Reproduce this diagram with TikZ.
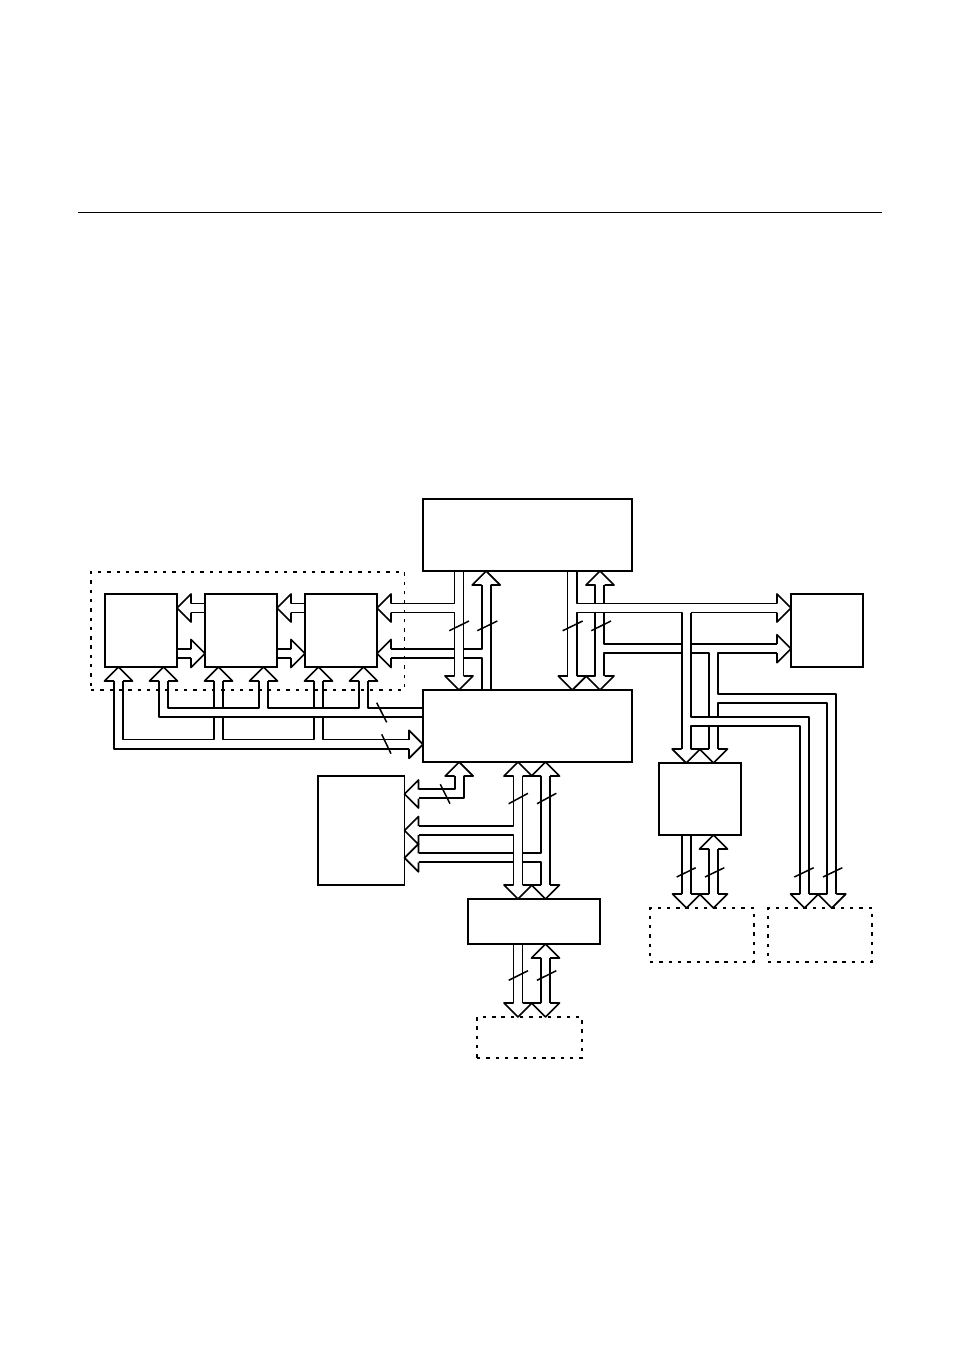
\documentclass[tikz,border=0pt]{standalone}
\newcommand{\headU}[2]{\path (#1,0 |- #2) coordinate (tip);\draw[bus] ([shift={(-4.5,14)}]tip) -- ([shift={(-14,14)}]tip) -- (tip) -- ([shift={(14,14)}]tip) -- ([shift={(4.5,14)}]tip);}
\newcommand{\headD}[2]{\path (#1,0 |- #2) coordinate (tip);\draw[bus] ([shift={(-4.5,-14)}]tip) -- ([shift={(-14,-14)}]tip) -- (tip) -- ([shift={(14,-14)}]tip) -- ([shift={(4.5,-14)}]tip);}
\newcommand{\headL}[2]{\path (#1 |- 0,#2) coordinate (tip);\draw[bus] ([shift={(14,-4.5)}]tip) -- ([shift={(14,-14)}]tip) -- (tip) -- ([shift={(14,14)}]tip) -- ([shift={(14,4.5)}]tip);}
\newcommand{\headR}[2]{\path (#1 |- 0,#2) coordinate (tip);\draw[bus] ([shift={(-14,-4.5)}]tip) -- ([shift={(-14,-14)}]tip) -- (tip) -- ([shift={(-14,14)}]tip) -- ([shift={(-14,4.5)}]tip);}
\newcommand{\blockat}[6]{\node[#1,minimum width={(#5-#3)*1pt},minimum height={(#6-#4)*1pt}] (#2) at ({(#3+#5)/2},{(#4+#6)/2}) {};}
\tikzset{
  bus/.style={line width=1.7pt,line join=round,line cap=butt},
  tick/.style={line width=1.5pt},
  solidbox/.style={draw,line width=1.6pt,inner sep=0pt,outer sep=0pt,fill=white},
  dotbox/.style={draw,line width=1.4pt,inner sep=0pt,outer sep=0pt,dash pattern=on 3.4pt off 5.9pt},
  rulerline/.style={line width=0.9pt}
}
\begin{document}
\begin{tikzpicture}[x=1pt,y=-1pt]
\path[use as bounding box,fill=white] (0,0) rectangle (954,1350);
\coordinate (ruleL) at (78,212);
\coordinate (ruleR) at (882,212);
\draw[rulerline] (ruleL) -- (ruleR);

% boxes
\blockat{solidbox}{top}{423}{499}{632}{571}
\blockat{solidbox}{mid}{423}{690}{632}{762}
\blockat{solidbox}{ba}{105}{594}{177}{667}
\blockat{solidbox}{bb}{205}{594}{277}{667}
\blockat{solidbox}{bc}{305}{594}{377}{667}
\blockat{solidbox}{right}{791}{594}{863}{667}
\blockat{solidbox}{lower}{318}{776}{404.5}{885}
\blockat{solidbox}{small}{659}{763}{741}{835}
\blockat{solidbox}{bridge}{468}{899}{600}{944}
\blockat{dotbox}{group}{91}{572}{404.5}{690}
\blockat{dotbox}{extA}{650}{908}{754}{962}
\blockat{dotbox}{extB}{768}{908}{872}{962}
\blockat{dotbox}{extC}{477}{1017}{582}{1058}

% memory chain
\headL{ba.east}{608}
\draw[bus] (191,603.5) -- (205,603.5) (191,612.5) -- (205,612.5);
\headL{bb.east}{608}
\draw[bus] (291,603.5) -- (305,603.5) (291,612.5) -- (305,612.5);
\headR{bb.west}{653.5}
\draw[bus] (177,649) -- (191,649) (177,658) -- (191,658);
\headR{bc.west}{653.5}
\draw[bus] (277,649) -- (291,649) (277,658) -- (291,658);

% top box, left pair
\headL{bc.east}{608}
\headL{bc.east}{653.5}
\draw[bus] (391,603.5) -- (454.5,603.5) -- (454.5,571);
\draw[bus] (391,612.5) -- (454.5,612.5) -- (454.5,676);
\draw[bus] (463.5,571) -- (463.5,676);
\headD{459}{mid.north}
\draw[bus] (391,649) -- (454.5,649) (391,658) -- (454.5,658);
\draw[bus] (463.5,649) -- (481.7,649) -- (481.7,585);
\draw[bus] (463.5,658) -- (481.7,658) -- (481.7,690);
\draw[bus] (490.7,585) -- (490.7,690);
\headU{486.2}{top.south}

% top box, right pair
\draw[bus] (567.5,571) -- (567.5,676);
\draw[bus] (577,571) -- (577,603.5) -- (777,603.5);
\draw[bus] (577,676) -- (577,612.5) -- (681.7,612.5) -- (681.7,749);
\draw[bus] (690.7,612.5) -- (777,612.5);
\draw[bus] (690.7,612.5) -- (690.7,716.7) -- (809,716.7) -- (809,894);
\headD{572.3}{mid.north}
\headD{600}{mid.north}
\headU{600}{top.south}
\draw[bus] (595.3,585) -- (595.3,603.5) (595.3,612.5) -- (595.3,676);
\draw[bus] (604.3,585) -- (604.3,603.5);
\draw[bus] (604.3,612.5) -- (604.3,644) -- (681.7,644);
\draw[bus] (690.7,644) -- (777,644);
\draw[bus] (604.3,676) -- (604.3,653.3) -- (681.7,653.3);
\draw[bus] (690.7,653.3) -- (709,653.3) -- (709,716.7);
\draw[bus] (777,653.3) -- (718,653.3) -- (718,694.3) -- (836,694.3) -- (836,894);
\draw[bus] (718,716.7) -- (718,703.3) -- (827,703.3) -- (827,894);
\draw[bus] (709,725.7) -- (709,749) (718,725.7) -- (718,749);
\draw[bus] (690.7,749) -- (690.7,725.7) -- (800,725.7) -- (800,894);
\headR{right.west}{608}
\headR{right.west}{648.7}
\headD{686.2}{small.north}
\headD{713.5}{small.north}
\headD{804.5}{extB.north}
\headD{831.8}{extB.north}

% small box to external
\draw[bus] (682,835) -- (682,894) (691,835) -- (691,894);
\draw[bus] (709,849) -- (709,894) (718,849) -- (718,894);
\headU{713.5}{small.south}
\headD{686.5}{extA.north}
\headD{713.5}{extA.north}

% mid box to memory row
\headU{118.5}{ba.south}
\headU{163.5}{ba.south}
\headU{218.5}{bb.south}
\headU{263.5}{bb.south}
\headU{318.5}{bc.south}
\headU{363.5}{bc.south}
\draw[bus] (368,681) -- (368,708) -- (423,708);
\draw[bus] (359,681) -- (359,708) -- (268,708) -- (268,681);
\draw[bus] (259,681) -- (259,708) -- (168,708) -- (168,681);
\draw[bus] (159,681) -- (159,717) -- (423,717);
\draw[bus] (214,681) -- (214,708) (223,681) -- (223,708);
\draw[bus] (314,681) -- (314,708) (323,681) -- (323,708);
\draw[bus] (214,717) -- (214,739.5) -- (123,739.5) -- (123,681);
\draw[bus] (223,717) -- (223,739.5) -- (314,739.5) -- (314,717);
\draw[bus] (323,717) -- (323,739.5) -- (409,739.5);
\draw[bus] (114,681) -- (114,749) -- (409,749);
\headR{mid.west}{744.3}

% mid box to lower-left box
\headU{459.2}{mid.south}
\draw[bus] (454.7,776) -- (454.7,789.3) -- (418.5,789.3);
\draw[bus] (463.7,776) -- (463.7,798.3) -- (418.5,798.3);
\headL{lower.east}{794}

% mid box to bridge
\headU{518}{mid.south}
\headU{545.5}{mid.south}
\headD{518}{bridge.north}
\headD{545.5}{bridge.north}
\draw[bus] (513.5,776) -- (513.5,825.7) -- (418.5,825.7);
\draw[bus] (418.5,835) -- (513.5,835) -- (513.5,885);
\draw[bus] (522.5,776) -- (522.5,885);
\draw[bus] (418.5,853.3) -- (513.5,853.3) (418.5,862.3) -- (513.5,862.3);
\draw[bus] (522.5,853.3) -- (541,853.3) -- (541,776);
\draw[bus] (522.5,862.3) -- (541,862.3) -- (541,885);
\draw[bus] (550,776) -- (550,885);
\headL{lower.east}{830.5}
\headL{lower.east}{857.8}

% bridge to external
\draw[bus] (513.5,944) -- (513.5,1003) (522.5,944) -- (522.5,1003);
\draw[bus] (541,958) -- (541,1003) (550,958) -- (550,1003);
\headU{545.5}{bridge.south}
\headD{518}{extC.north}
\headD{545.5}{extC.north}

% bus width ticks
\foreach \xa/\ya/\xb/\yb in {
  449.3/630.7/469/621, 477.3/630.7/497.3/621,
  562.7/630.7/582.7/621, 591.3/630.7/611/621,
  676.7/877/695.7/867.7, 705/877/724.3/867.7,
  794.3/877/813.7/867.7, 823/877/842.3/867.7,
  508.7/803.7/528/793.3, 537/803.7/556.3/793.3,
  508.7/980.3/528/970.7, 537/980.3/556.3/970.7,
  376.7/702.7/386.7/722.3, 381.7/734.3/391/753.7,
  440.3/784.3/450/803.7}
  \draw[tick] (\xa,\ya) -- (\xb,\yb);
\end{tikzpicture}
\end{document}
